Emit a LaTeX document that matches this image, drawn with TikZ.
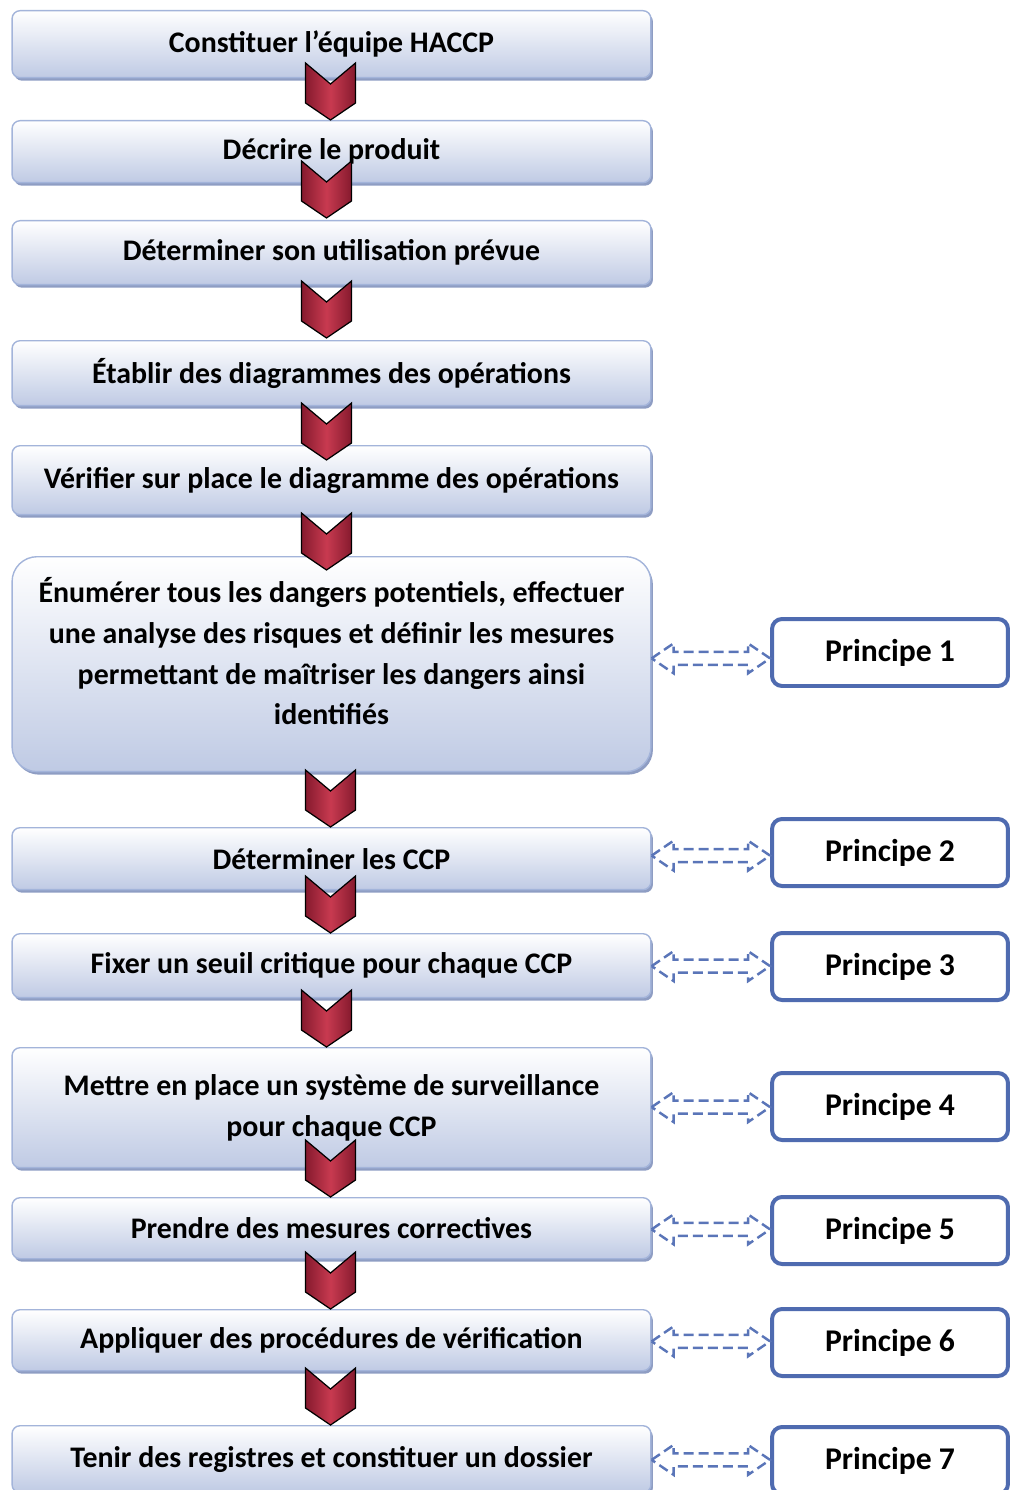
\documentclass[tikz,border=0pt]{standalone}
\usepackage{fontspec}
\setmainfont{Carlito}
\usepackage{tikz}
\usetikzlibrary{calc,shadows}
\definecolor{HaccpEdge}{HTML}{A3B4DA}
\definecolor{HaccpFill}{HTML}{BFCAE4}
\definecolor{HaccpShadow}{HTML}{8E9DC3}
\definecolor{HaccpBlue}{HTML}{4F6BB0}
\definecolor{HaccpLink}{HTML}{5A75B8}
\definecolor{ChevDark}{HTML}{861A2E}
\definecolor{ChevLight}{HTML}{C83A50}
\tikzset{
  stepbox/.style={draw=HaccpEdge,line width=0.8pt,rounded corners=0.16cm,
    top color=white,bottom color=HaccpFill,
    drop shadow={shadow xshift=0.04cm,shadow yshift=-0.06cm,fill=HaccpShadow,opacity=1},
    minimum width=12.78cm,anchor=north,align=center,inner sep=0pt,
    font=\bfseries\fontsize{17}{23.2}\selectfont},
  bigbox/.style={stepbox,rounded corners=0.5cm},
  principlebox/.style={draw=HaccpBlue,line width=0.08cm,rounded corners=0.2cm,fill=white,
    minimum width=4.72cm,minimum height=1.34cm,align=center,inner sep=0pt,
    font=\bfseries\fontsize{18}{23.2}\selectfont},
  hollowlink/.style={draw=HaccpLink,line width=1.4pt,dash pattern=on 0.2cm off 0.1cm},
  chevron/.style={draw=black,line width=0.7pt,left color=ChevDark,right color=ChevDark,
    middle color=ChevLight},
  chev/.pic={\draw[chevron] (0,0) -- (-25,-17) -- (-25,-57) -- (0,-36)
    -- (25,-57) -- (25,-17) -- cycle;}
}
\begin{document}
\begin{tikzpicture}[x=0.02cm,y=-0.02cm]
  \useasboundingbox (0,0) rectangle (1012,1490);
  % steps of the HACCP method
  \node[stepbox,minimum height=1.34cm] (s1) at (331.5,10) {Constituer l’équipe HACCP};
  \node[stepbox,minimum height=1.24cm] (s2) at (331.5,120) {Décrire le produit};
  \node[stepbox,minimum height=1.28cm] (s3) at (331.5,220) {Déterminer son utilisation prévue};
  \node[stepbox,minimum height=1.30cm] (s4) at (331.5,340) {Établir des diagrammes des opérations};
  \node[stepbox,minimum height=1.38cm] (s5) at (331.5,445) {Vérifier sur place le diagramme des opérations};
  \node[bigbox,minimum height=4.30cm,text depth=0.52cm] (s6) at (331.5,556) {Énumérer tous les dangers potentiels, effectuer\\une analyse des risques et définir les mesures\\permettant de maîtriser les dangers ainsi\\identifiés};
  \node[stepbox,minimum height=1.24cm] (s7) at (331.5,827) {Déterminer les CCP};
  \node[stepbox,minimum height=1.28cm] (s8) at (331.5,933) {Fixer un seuil critique pour chaque CCP};
  \node[stepbox,minimum height=2.40cm] (s9) at (331.5,1047) {Mettre en place un système de surveillance\\pour chaque CCP};
  \node[stepbox,minimum height=1.22cm] (s10) at (331.5,1197) {Prendre des mesures correctives};
  \node[stepbox,minimum height=1.22cm] (s11) at (331.5,1309) {Appliquer des procédures de vérification};
  \node[stepbox,minimum height=1.34cm] (s12) at (331.5,1425) {Tenir des registres et constituer un dossier};
  % principles
  \node[principlebox] (p1) at (890,652.5) {Principe 1};
  \node[principlebox] (p2) at (890,852.5) {Principe 2};
  \node[principlebox] (p3) at (890,966.5) {Principe 3};
  \node[principlebox] (p4) at (890,1106.5) {Principe 4};
  \node[principlebox] (p5) at (890,1230.5) {Principe 5};
  \node[principlebox] (p6) at (890,1342.5) {Principe 6};
  \node[principlebox] (p7) at (890,1460.5) {Principe 7};
  % chevrons between steps
  \foreach \b/\dx/\dy in {s2/-1/0,s3/-5/-2,s4/-5/-2,s5/-5/15,s6/-5/14,s7/-1/0,s8/-1/0,
      s9/-5/0,s10/-1/0,s11/-1/0,s12/-1/0}
    \pic at ($(\b.north)+(\dx,\dy)$) {chev};
  % hollow dashed double arrows
  \foreach \s/\p in {s6/p1,s7/p2,s8/p3,s9/p4,s10/p5,s11/p6,s12/p7} {
    \coordinate (m) at ($(\s.east)!0.5!(\p.west)$);
    \draw[hollowlink] (\s.east |- m) -- ++(22,-15) -- ++(0,8.5)
      -- ($(\p.west |- m)+(-22,-6.5)$) -- ++(0,-8.5) -- (\p.west |- m) -- ++(-22,15)
      -- ++(0,-8.5) -- ($(\s.east |- m)+(22,6.5)$) -- ++(0,8.5) -- cycle;
  }
\end{tikzpicture}
\end{document}
